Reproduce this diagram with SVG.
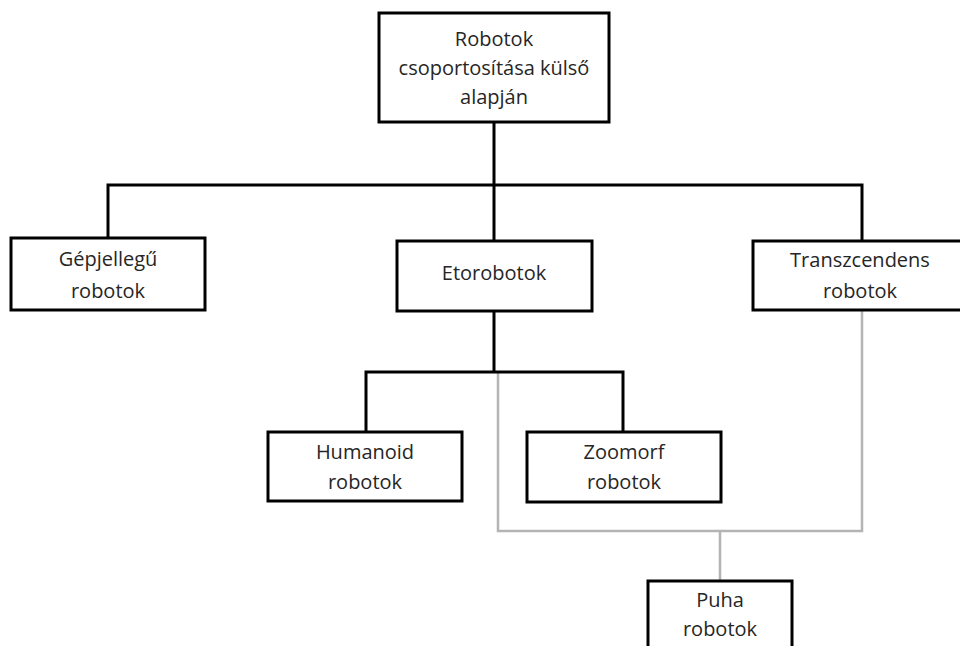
<svg xmlns="http://www.w3.org/2000/svg" width="960" height="646" viewBox="0 0 960 646">
  <style>
    .box { fill: #ffffff; stroke: #000000; stroke-width: 3; }
    .lbl { font-family: "Open Sans", "Liberation Sans", sans-serif; font-size: 20px; fill: #262626; text-anchor: middle; }
    .tree { fill: none; stroke: #000000; stroke-width: 3; }
    .soft { fill: none; stroke: #b4b4b4; stroke-width: 2.5; }
  </style>
  <rect width="960" height="646" fill="#ffffff"/>

  <!-- connectors -->
  <g id="connectors">
    <path class="soft" d="M498 372 V531 H862 V310 M720 531 V581"/>
    <path class="tree" d="M494 122 V241 M108 238 V185 H862 V241 M494 311 V372 M366 432 V372 H623 V432"/>
  </g>

  <!-- root -->
  <g id="root">
    <rect class="box" x="379" y="13" width="230" height="109"/>
    <text class="lbl" x="494" y="46">Robotok</text>
    <text class="lbl" x="494" y="75">csoportosítása külső</text>
    <text class="lbl" x="494" y="104">alapján</text>
  </g>

  <g id="gepjellegu">
    <rect class="box" x="11" y="238" width="194" height="72"/>
    <text class="lbl" x="108" y="266">Gépjellegű</text>
    <text class="lbl" x="108" y="298">robotok</text>
  </g>

  <g id="etorobotok">
    <rect class="box" x="397" y="241" width="195" height="70"/>
    <text class="lbl" x="494" y="280">Etorobotok</text>
  </g>

  <g id="transzcendens">
    <rect class="box" x="753" y="241" width="218" height="69"/>
    <text class="lbl" x="860" y="267">Transzcendens</text>
    <text class="lbl" x="860" y="298">robotok</text>
  </g>

  <g id="humanoid">
    <rect class="box" x="268" y="432" width="194" height="69"/>
    <text class="lbl" x="365" y="459">Humanoid</text>
    <text class="lbl" x="365" y="489">robotok</text>
  </g>

  <g id="zoomorf">
    <rect class="box" x="527" y="432" width="194" height="70"/>
    <text class="lbl" x="624" y="459">Zoomorf</text>
    <text class="lbl" x="624" y="489">robotok</text>
  </g>

  <g id="puha">
    <rect class="box" x="648" y="581" width="144" height="80"/>
    <text class="lbl" x="720" y="607">Puha</text>
    <text class="lbl" x="720" y="636">robotok</text>
  </g>
</svg>
